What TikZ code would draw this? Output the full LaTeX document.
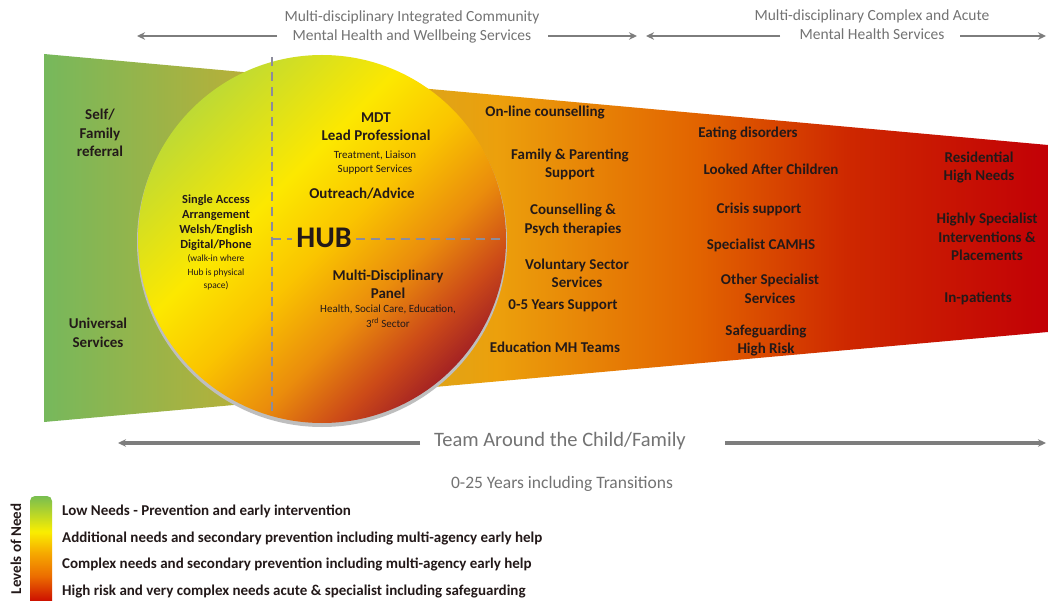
\documentclass[tikz,border=0pt]{standalone}
\usepackage{fontspec}
\setmainfont{Carlito}
\usetikzlibrary{arrows.meta}

% funnel colours (left to right)
\definecolor{fA}{RGB}{118,184,92}
\definecolor{fB}{RGB}{184,176,56}
\definecolor{fC}{RGB}{236,160,12}
\definecolor{fD}{RGB}{226,100,0}
\definecolor{fE}{RGB}{206,40,0}
\definecolor{fF}{RGB}{194,0,6}
% hub colours (top-left to bottom-right)
\definecolor{hA}{RGB}{190,218,52}
\definecolor{hB}{RGB}{252,232,0}
\definecolor{hC}{RGB}{250,196,0}
\definecolor{hD}{RGB}{234,140,12}
\definecolor{hE}{RGB}{204,74,24}
\definecolor{hF}{RGB}{165,35,35}
% legend bar colours
\definecolor{lA}{RGB}{120,190,80}
\definecolor{lB}{RGB}{250,238,0}
\definecolor{lC}{RGB}{246,170,0}
\definecolor{lD}{RGB}{236,110,0}
\definecolor{lE}{RGB}{205,15,0}

\definecolor{txt}{RGB}{35,25,25}
\definecolor{headgrey}{RGB}{115,115,115}
\definecolor{arrowgrey}{RGB}{125,125,125}
\definecolor{dashgrey}{RGB}{140,140,155}
\definecolor{rimgrey}{RGB}{190,190,190}

\pgfdeclarehorizontalshading{funnelshade}{100bp}{%
  color(0bp)=(fA); color(25bp)=(fA); color(35bp)=(fB); color(47.5bp)=(fC);
  color(57.5bp)=(fD); color(65bp)=(fE); color(75bp)=(fF); color(100bp)=(fF)}
\pgfdeclarehorizontalshading{hubshade}{100bp}{%
  color(0bp)=(hA); color(25bp)=(hA); color(41bp)=(hB); color(51bp)=(hC);
  color(61bp)=(hD); color(69bp)=(hE); color(75bp)=(hF); color(100bp)=(hF)}
\pgfdeclareverticalshading{needshade}{100bp}{%
  color(0bp)=(lE); color(25bp)=(lE); color(37bp)=(lD); color(48bp)=(lC);
  color(58bp)=(lB); color(75bp)=(lA); color(100bp)=(lA)}

\tikzset{
  lbl/.style={font=\bfseries\fontsize{15}{18.5}\selectfont, text=txt, align=center, inner sep=0pt},
  smalllbl/.style={font=\fontsize{11}{14.5}\selectfont, text=txt, align=center, inner sep=0pt},
  accesslbl/.style={font=\bfseries\fontsize{12.4}{15}\selectfont, text=txt, align=center, inner sep=0pt},
  tinylbl/.style={font=\fontsize{9.5}{13.5}\selectfont, text=txt, align=center, inner sep=0pt},
  headlbl/.style={font=\fontsize{15.5}{19.5}\selectfont, text=headgrey, align=center, inner sep=0pt},
  legendlbl/.style={font=\bfseries\fontsize{15}{16}\selectfont, text=txt, anchor=west, inner sep=0pt},
  garrow/.style={draw=arrowgrey, line width=2.5pt, -{Stealth[length=8pt,width=7.5pt]}},
  teamarrow/.style={garrow, line width=3.2pt},
  hubdash/.style={draw=dashgrey, line width=2pt, dash pattern=on 9pt off 6pt},
}

\begin{document}
\begin{tikzpicture}[x=1pt,y=-1pt]
\useasboundingbox (0,0) rectangle (1048,601);
\fill[white] (0,0) rectangle (1048,601);

% service funnel
\shade[shading=funnelshade] (44,54) -- (1048,145) -- (1048,332) -- (44,422) -- cycle;

% hub circle with its rim
\fill[rimgrey] (322,242) circle[radius=185];
\shade[shading=hubshade, shading angle=-45] (322,239) circle[radius=184];

% hub axes
\node[font=\bfseries\fontsize{30}{32}\selectfont, text=txt, inner sep=4pt] (hub) at (324,238) {HUB};
\coordinate (vtop) at (272,57);
\coordinate (vbot) at (272,412);
\coordinate (hleft) at (272,239);
\coordinate (hright) at (505,239);
\draw[hubdash] (vtop) -- (vbot);
\draw[hubdash] (hleft) -- (hleft -| hub.west);
\draw[hubdash] (hub.east |- hright) -- (hright);

% top headings and arrows
\node[headlbl] (headA) at (412,27) {Multi-disciplinary Integrated Community\\Mental Health and Wellbeing Services};
\node[headlbl] (headB) at (872,24.5) {Multi-disciplinary Complex and Acute\\Mental Health Services};
\coordinate (aAl0) at (277,36); \coordinate (aAl1) at (137,36);
\coordinate (aAr0) at (548,36); \coordinate (aAr1) at (637,36);
\coordinate (aBl0) at (780,36); \coordinate (aBl1) at (646,36);
\coordinate (aBr0) at (960,36); \coordinate (aBr1) at (1046,36);
\draw[garrow] (aAl0) -- (aAl1);
\draw[garrow] (aAr0) -- (aAr1);
\draw[garrow] (aBl0) -- (aBl1);
\draw[garrow] (aBr0) -- (aBr1);

% left of the hub
\node[lbl] (selfref) at (100,133) {Self/\\Family\\referral};
\node[lbl] (universal) at (98,333) {Universal\\Services};
\node[accesslbl] (access) at (216,222.5) {Single Access\\Arrangement\\Welsh/English\\Digital/Phone};
\node[tinylbl] (walkin) at (216,272.5) {(walk-in where\\Hub is physical\\space)};

% inside the hub
\node[lbl] (mdt) at (376,126.5) {MDT\\Lead Professional};
\node[smalllbl] (treat) at (375,162.5) {Treatment, Liaison\\Support Services};
\node[lbl] (outreach) at (362,194) {Outreach/Advice};
\node[lbl] (panel) at (388,284.5) {Multi-Disciplinary\\Panel};
\node[smalllbl] (sectors) at (388,316) {Health, Social Care, Education,\\3\textsuperscript{rd} Sector};

% community services
\node[lbl] (online) at (545,113) {On-line counselling};
\node[lbl] (family) at (570,164.5) {Family \& Parenting\\Support};
\node[lbl] (counsel) at (573,220) {Counselling \&\\Psych therapies};
\node[lbl] (voluntary) at (577,273.5) {Voluntary Sector\\Services};
\node[lbl] (years) at (563,306) {0-5 Years Support};
\node[lbl] (edu) at (555,347) {Education MH Teams};

% complex and acute services
\node[lbl] (eating) at (748,133) {Eating disorders};
\node[lbl] (looked) at (771,169) {Looked After Children};
\node[lbl] (crisis) at (759,209) {Crisis support};
\node[lbl] (camhs) at (761,245) {Specialist CAMHS};
\node[lbl] (other) at (770,289) {Other Specialist\\Services};
\node[lbl] (safe) at (766,340.5) {Safeguarding\\High Risk};
\node[lbl] (resid) at (979,167.5) {Residential\\High Needs};
\node[lbl] (highly) at (987,237) {Highly Specialist\\Interventions \&\\Placements};
\node[lbl] (inpat) at (978,298) {In-patients};

% team around the child
\node[font=\fontsize{20.5}{22}\selectfont, text=headgrey, inner sep=0pt] (team) at (560,441) {Team Around the Child/Family};
\coordinate (tl0) at (420,443); \coordinate (tl1) at (118,443);
\coordinate (tr0) at (725,443); \coordinate (tr1) at (1046,443);
\draw[teamarrow] (tl0) -- (tl1);
\draw[teamarrow] (tr0) -- (tr1);
\node[font=\fontsize{17.5}{19}\selectfont, text=headgrey, inner sep=0pt] (ages) at (562,484) {0-25 Years including Transitions};

% levels of need legend
\shade[shading=needshade] (30,601) [rounded corners=5pt] -- (30,496) -- (52,496) [sharp corners] -- (52,601) -- cycle;
\node[font=\bfseries\fontsize{15}{16}\selectfont, text=txt, rotate=90, inner sep=0pt] (levels) at (16,549) {Levels of Need};
\node[legendlbl] (needA) at (62,511) {Low Needs - Prevention and early intervention};
\node[legendlbl] (needB) at (62,538) {Additional needs and secondary prevention including multi-agency early help};
\node[legendlbl] (needC) at (62,564) {Complex needs and secondary prevention including multi-agency early help};
\node[legendlbl] (needD) at (62,592) {High risk and very complex needs acute \& specialist including safeguarding};
\end{tikzpicture}
\end{document}
